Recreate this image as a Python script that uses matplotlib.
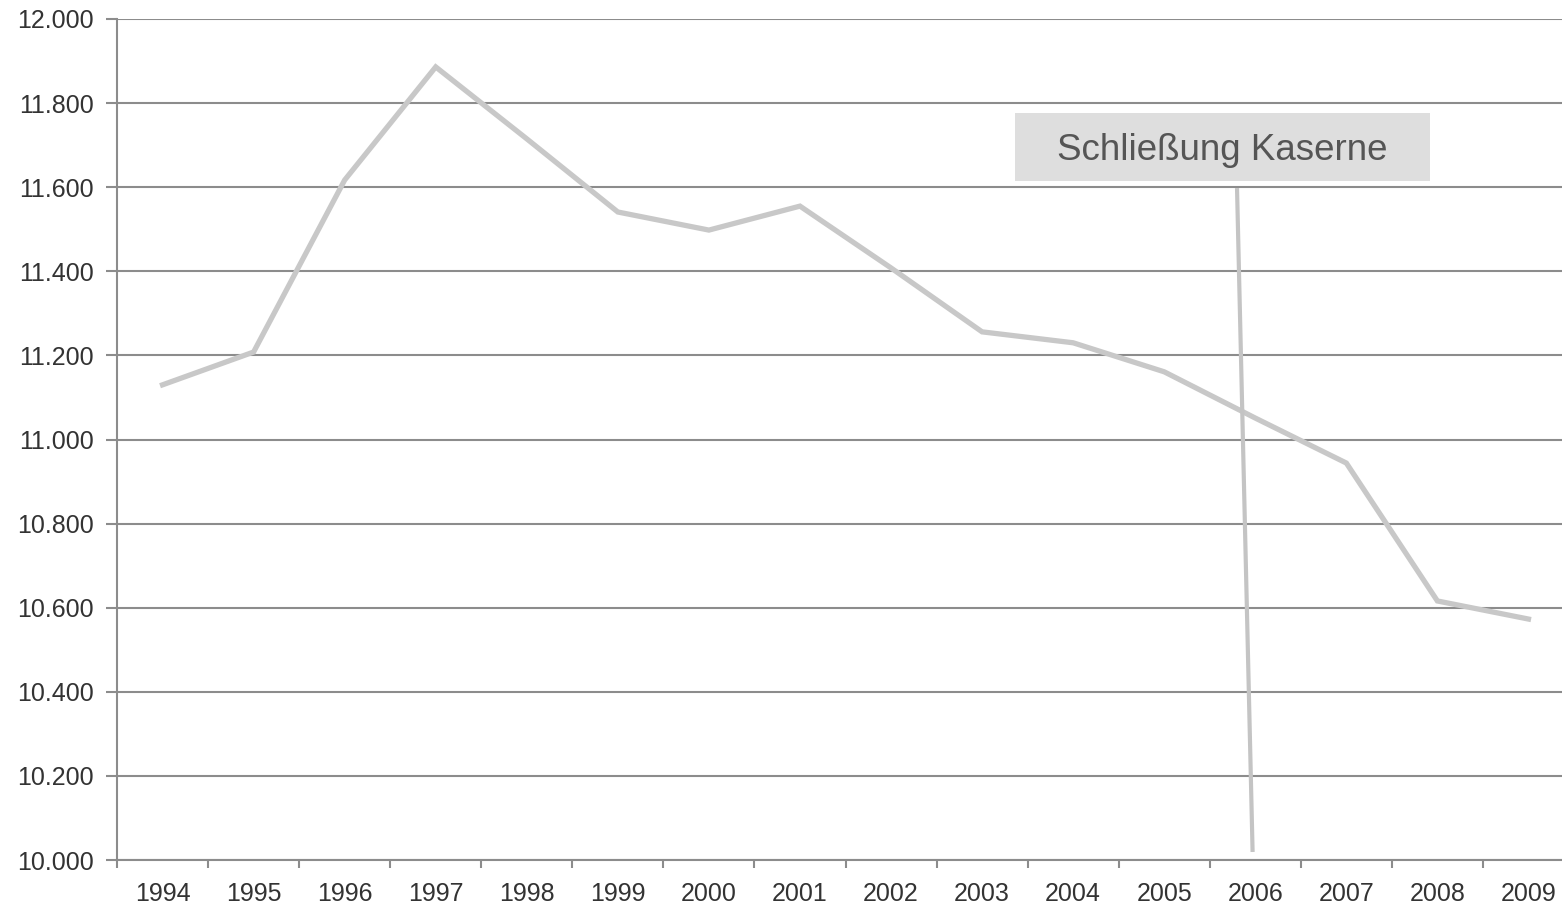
import matplotlib.pyplot as plt
import numpy as np
from matplotlib.patches import Rectangle
from matplotlib.ticker import FuncFormatter

plt.rcParams['font.family'] = ['Liberation Sans', 'DejaVu Sans']

years = ['1994', '1995', '1996', '1997', '1998', '1999', '2000', '2001',
         '2002', '2003', '2004', '2005', '2006', '2007', '2008', '2009']
einwohner = [11130, 11208, 11617, 11886, 11715, 11541, 11498, 11555,
             11408, 11256, 11230, 11161, 11051, 10944, 10616, 10573]

event_label = 'Schließung Kaserne'
# scanned marker line: slightly slanted near 2006
event_x = [11.80, 11.97]
event_y = [11593, 10024]

GRID = '#8c8c8c'
LINE = '#c8c8c8'

fig = plt.figure(figsize=(15.62, 9.06), dpi=100)
ax = fig.add_axes([117 / 1562, 46 / 906, 1457 / 1562, 841 / 906])

x = np.arange(len(years))
ax.plot(x, einwohner, color=LINE, lw=3.8, solid_joinstyle='miter', zorder=3)
ax.plot(event_x, event_y, color='#c4c4c4', lw=3.0, zorder=3)

# label box
ax.add_patch(Rectangle((9.36, 11615), 4.56, 161, fc='#dedede', ec='none', zorder=4))
ax.text(11.64, 11688, event_label, fontsize=26.5, color='#555555',
        ha='center', va='center', zorder=5)

ax.set_xlim(-0.5, len(years) - 0.5)
ax.set_ylim(10000, 12000)
ax.set_yticks(np.arange(10000, 12001, 200))
ax.yaxis.set_major_formatter(FuncFormatter(lambda v, p: '{:,.0f}'.format(v).replace(',', '.')))
ax.set_xticks(x)
ax.set_xticklabels(years)
ax.set_xticks(np.arange(-0.5, len(years), 1), minor=True)

ax.grid(axis='y', color=GRID, lw=1.5, zorder=1)
ax.set_axisbelow(True)
for s in ['top', 'right']:
    ax.spines[s].set_visible(False)
for s in ['left', 'bottom']:
    ax.spines[s].set_color(GRID)
    ax.spines[s].set_linewidth(1.5)

ax.tick_params(axis='x', which='major', length=0, labelsize=18, labelcolor='#333333', pad=16)
ax.tick_params(axis='x', which='minor', length=6, width=1.5, color=GRID, direction='out')
ax.tick_params(axis='y', length=8, width=1.5, color=GRID, labelsize=18, labelcolor='#333333', pad=9)

fig.savefig('out.png', dpi=100)
